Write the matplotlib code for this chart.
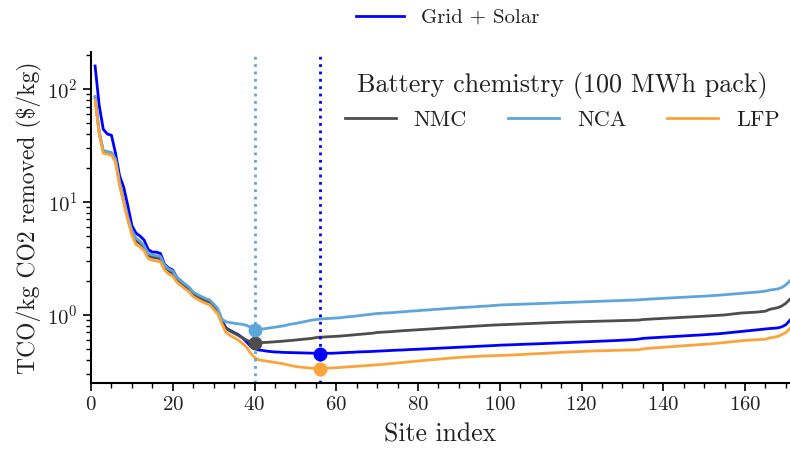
import numpy as np
import matplotlib
matplotlib.use("Agg")
import matplotlib.pyplot as plt
from matplotlib.ticker import MultipleLocator

plt.rcParams['font.family'] = 'serif'
plt.rcParams['font.serif'] = ['cmr10']
plt.rcParams['mathtext.fontset'] = 'cm'
plt.rcParams['axes.formatter.use_mathtext'] = True
plt.rcParams['axes.unicode_minus'] = False

# TCO per kg CO2 removed, sites sorted by index (1..171)
grid_solar = [
    160, 72, 44, 40, 39, 27, 17, 13.5, 9.3, 6.2,
    5.3, 5.0, 4.6, 3.8, 3.6, 3.6, 3.5, 2.8, 2.6, 2.5,
    2.15, 2.0, 1.85, 1.72, 1.56, 1.48, 1.42, 1.36, 1.32, 1.2,
    1.1, 0.9, 0.77, 0.73, 0.7, 0.67, 0.63, 0.58, 0.53, 0.505,
    0.49, 0.485, 0.478, 0.474, 0.47, 0.469, 0.466, 0.465, 0.463, 0.462,
    0.462, 0.461, 0.46, 0.459, 0.458, 0.455, 0.457, 0.458, 0.458, 0.46,
    0.462, 0.463, 0.466, 0.467, 0.47, 0.471, 0.473, 0.474, 0.476, 0.478,
    0.48, 0.481, 0.483, 0.486, 0.488, 0.489, 0.492, 0.494, 0.495, 0.497,
    0.499, 0.501, 0.503, 0.505, 0.507, 0.509, 0.512, 0.514, 0.516, 0.518,
    0.52, 0.522, 0.524, 0.526, 0.528, 0.53, 0.532, 0.535, 0.537, 0.54,
    0.541, 0.543, 0.545, 0.547, 0.548, 0.55, 0.552, 0.553, 0.555, 0.557,
    0.559, 0.56, 0.562, 0.564, 0.566, 0.568, 0.57, 0.572, 0.574, 0.576,
    0.578, 0.58, 0.582, 0.584, 0.586, 0.588, 0.59, 0.592, 0.595, 0.598,
    0.601, 0.604, 0.606, 0.612, 0.62, 0.624, 0.627, 0.63, 0.633, 0.636,
    0.639, 0.642, 0.645, 0.648, 0.651, 0.654, 0.657, 0.66, 0.664, 0.668,
    0.672, 0.676, 0.68, 0.684, 0.69, 0.696, 0.702, 0.708, 0.714, 0.72,
    0.726, 0.732, 0.738, 0.745, 0.752, 0.758, 0.762, 0.768, 0.785, 0.82, 0.90,
]

nmc = [
    84, 41, 28, 27.5, 27, 23.5, 14.5, 10.2, 7.2, 5.4,
    4.5, 4.3, 3.95, 3.35, 3.25, 3.2, 3.15, 2.65, 2.45, 2.35,
    2.05, 1.92, 1.8, 1.68, 1.52, 1.45, 1.39, 1.33, 1.29, 1.18,
    1.07, 0.88, 0.76, 0.72, 0.69, 0.66, 0.63, 0.6, 0.58, 0.565,
    0.567, 0.57, 0.572, 0.575, 0.578, 0.582, 0.586, 0.59, 0.595, 0.6,
    0.605, 0.61, 0.615, 0.62, 0.63, 0.635, 0.638, 0.64, 0.643, 0.646,
    0.65, 0.655, 0.66, 0.665, 0.67, 0.675, 0.68, 0.685, 0.69, 0.7,
    0.703, 0.707, 0.71, 0.715, 0.72, 0.724, 0.728, 0.732, 0.736, 0.74,
    0.744, 0.748, 0.752, 0.756, 0.76, 0.764, 0.768, 0.772, 0.776, 0.78,
    0.784, 0.788, 0.792, 0.796, 0.8, 0.804, 0.808, 0.812, 0.815, 0.818,
    0.82, 0.823, 0.826, 0.829, 0.832, 0.835, 0.838, 0.841, 0.844, 0.847,
    0.85, 0.853, 0.856, 0.859, 0.862, 0.864, 0.866, 0.868, 0.87, 0.872,
    0.874, 0.876, 0.878, 0.88, 0.882, 0.884, 0.886, 0.888, 0.89, 0.892,
    0.894, 0.896, 0.898, 0.9, 0.91, 0.915, 0.92, 0.924, 0.928, 0.932,
    0.936, 0.94, 0.944, 0.948, 0.952, 0.956, 0.96, 0.965, 0.97, 0.975,
    0.98, 0.985, 0.99, 0.995, 1.0, 1.01, 1.02, 1.03, 1.04, 1.045,
    1.05, 1.055, 1.06, 1.07, 1.08, 1.12, 1.14, 1.16, 1.2, 1.27, 1.38,
]

nca = [
    86, 42, 28.5, 28, 27.5, 24, 15, 10.5, 7.4, 5.6,
    4.8, 4.5, 4.1, 3.5, 3.4, 3.35, 3.3, 2.75, 2.55, 2.45,
    2.15, 2.0, 1.88, 1.76, 1.6, 1.52, 1.46, 1.4, 1.36, 1.25,
    1.14, 0.92, 0.87, 0.855, 0.845, 0.835, 0.825, 0.81, 0.78, 0.74,
    0.745, 0.752, 0.76, 0.77, 0.78, 0.79, 0.8, 0.815, 0.83, 0.84,
    0.855, 0.87, 0.885, 0.9, 0.91, 0.92, 0.925, 0.93, 0.935, 0.94,
    0.945, 0.955, 0.965, 0.97, 0.98, 0.99, 1.0, 1.01, 1.02, 1.03,
    1.035, 1.04, 1.045, 1.05, 1.06, 1.065, 1.07, 1.08, 1.085, 1.09,
    1.1, 1.105, 1.11, 1.12, 1.125, 1.13, 1.14, 1.145, 1.15, 1.16,
    1.165, 1.17, 1.175, 1.18, 1.19, 1.195, 1.2, 1.21, 1.215, 1.225,
    1.228, 1.232, 1.236, 1.24, 1.244, 1.248, 1.252, 1.256, 1.26, 1.264,
    1.268, 1.272, 1.276, 1.28, 1.284, 1.288, 1.292, 1.296, 1.3, 1.304,
    1.308, 1.312, 1.316, 1.32, 1.324, 1.328, 1.332, 1.336, 1.34, 1.345,
    1.35, 1.353, 1.356, 1.36, 1.37, 1.378, 1.384, 1.39, 1.396, 1.402,
    1.408, 1.414, 1.42, 1.426, 1.432, 1.438, 1.444, 1.45, 1.458, 1.466,
    1.474, 1.482, 1.49, 1.5, 1.51, 1.52, 1.53, 1.54, 1.55, 1.56,
    1.57, 1.58, 1.595, 1.61, 1.625, 1.66, 1.68, 1.7, 1.75, 1.85, 2.01,
]

lfp = [
    80, 40, 27, 26.5, 26, 22.5, 14, 9.8, 6.9, 5.1,
    4.2, 4.0, 3.7, 3.15, 3.05, 3.0, 2.95, 2.5, 2.3, 2.2,
    1.95, 1.82, 1.7, 1.6, 1.45, 1.38, 1.32, 1.27, 1.23, 1.12,
    1.02, 0.84, 0.7, 0.66, 0.63, 0.6, 0.56, 0.52, 0.46, 0.42,
    0.4, 0.395, 0.39, 0.385, 0.38, 0.375, 0.37, 0.362, 0.356, 0.35,
    0.346, 0.343, 0.34, 0.338, 0.336, 0.333, 0.336, 0.338, 0.34, 0.341,
    0.343, 0.345, 0.347, 0.349, 0.351, 0.353, 0.355, 0.357, 0.359, 0.361,
    0.364, 0.367, 0.37, 0.373, 0.376, 0.379, 0.382, 0.385, 0.388, 0.391,
    0.394, 0.397, 0.4, 0.403, 0.406, 0.409, 0.412, 0.415, 0.418, 0.421,
    0.423, 0.425, 0.427, 0.429, 0.431, 0.433, 0.434, 0.435, 0.436, 0.437,
    0.438, 0.44, 0.442, 0.444, 0.446, 0.448, 0.45, 0.452, 0.454, 0.456,
    0.458, 0.46, 0.462, 0.464, 0.466, 0.468, 0.47, 0.472, 0.474, 0.476,
    0.478, 0.479, 0.48, 0.481, 0.482, 0.483, 0.484, 0.485, 0.486, 0.487,
    0.488, 0.489, 0.49, 0.492, 0.5, 0.505, 0.508, 0.511, 0.514, 0.517,
    0.52, 0.523, 0.526, 0.529, 0.532, 0.535, 0.538, 0.541, 0.545, 0.549,
    0.553, 0.557, 0.561, 0.565, 0.57, 0.575, 0.58, 0.585, 0.59, 0.595,
    0.598, 0.6, 0.603, 0.606, 0.61, 0.625, 0.635, 0.645, 0.67, 0.7, 0.76,
]

sites = np.arange(1, len(grid_solar) + 1)

chemistries = {"NMC": nmc, "NCA": nca, "LFP": lfp}
colors = {"NMC": "#4d4d4d", "NCA": "#5da5da", "LFP": "#faa43a"}
grid_color = "blue"
text_color = "#222222"

fig = plt.figure(figsize=(7.9, 4.5), dpi=100)
ax = fig.add_axes([0.1152, 0.149, 0.8848, 0.735])

grid_line, = ax.plot(sites, grid_solar, color=grid_color, lw=2, label="Grid + Solar")
chem_lines = []
for name, vals in chemistries.items():
    line, = ax.plot(sites, vals, color=colors[name], lw=2, label=name)
    chem_lines.append(line)

# optimum site for each curve
gs_min = int(np.argmin(grid_solar))
ax.axvline(sites[gs_min], color=grid_color, ls=":", lw=2)
ax.plot(sites[gs_min], grid_solar[gs_min], "o", color=grid_color, ms=9, zorder=5)
for name, vals in chemistries.items():
    i = int(np.argmin(vals))
    ax.plot(sites[i], vals[i], "o", color=colors[name], ms=9, zorder=5)
nca_min = int(np.argmin(nca))
ax.axvline(sites[nca_min], color=colors["NCA"], ls=":", lw=2)

ax.set_yscale("log")
ax.set_xlim(0, 171)
ax.set_ylim(0.25, 212)
ax.xaxis.set_major_locator(MultipleLocator(20))
ax.xaxis.set_minor_locator(MultipleLocator(5))
ax.tick_params(axis="both", which="major", labelsize=15, length=6, width=1.2,
               labelcolor=text_color)
ax.tick_params(axis="both", which="minor", length=3.5, width=1)
for side in ("top", "right"):
    ax.spines[side].set_visible(False)
for side in ("left", "bottom"):
    ax.spines[side].set_linewidth(1.5)

ax.set_xlabel("Site index", fontsize=18.5, color=text_color, labelpad=6)
ax.set_ylabel("TCO/kg CO2 removed (\\$/kg)", fontsize=17, color=text_color)

leg1 = ax.legend(handles=[grid_line], loc="lower center", bbox_to_anchor=(0.51, 1.02),
                 frameon=False, fontsize=15, handlelength=2.3)
ax.add_artist(leg1)
leg2 = ax.legend(handles=chem_lines, loc="upper right", bbox_to_anchor=(1.014, 1.0), ncol=3,
                 frameon=False, fontsize=16, title="Battery chemistry (100 MWh pack)",
                 title_fontsize=18.8, columnspacing=1.85, handlelength=2.3)
for leg in (leg1, leg2):
    for t in leg.get_texts():
        t.set_color(text_color)
leg2.get_title().set_color(text_color)

fig.savefig("out.png", dpi=100)
